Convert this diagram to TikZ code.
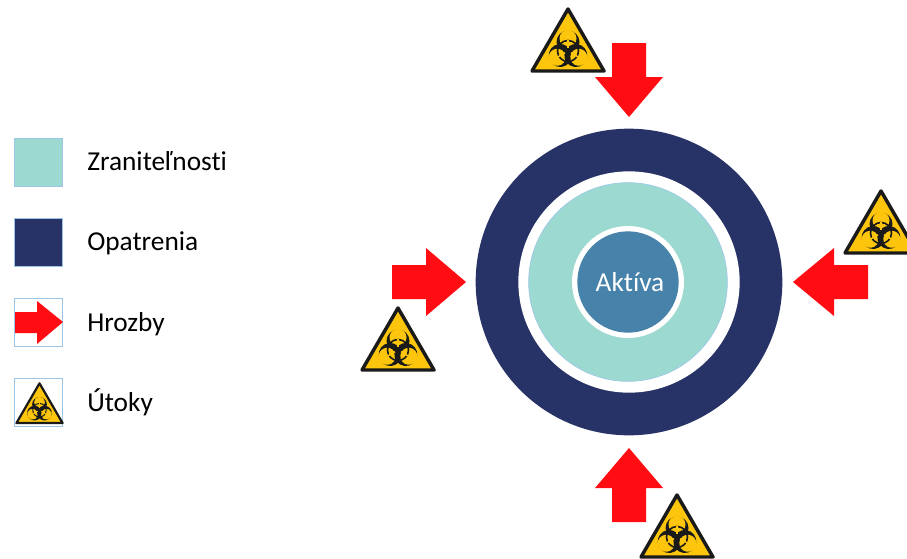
\documentclass[tikz,border=0pt]{standalone}
\usepackage{fontspec}
\setmainfont[Ligatures=NoCommon]{Carlito}
\definecolor{tealc}{HTML}{9CDAD1}
\definecolor{navyc}{HTML}{273366}
\definecolor{bluec}{HTML}{4682A9}
\definecolor{redc}{HTML}{FF0D12}
\definecolor{yelc}{HTML}{FDC60C}
\definecolor{framec}{HTML}{9CC6E8}
\definecolor{blk}{HTML}{1A1A1A}
\tikzset{
  x=0.75pt,y=-0.75pt,
  legendtext/.style={anchor=base west,inner sep=0pt,font=\fontsize{20.5pt}{22pt}\selectfont,text=black},
  swatch/.style={draw=framec,line width=1pt},
  threat/.style={fill=redc,draw=none},
  pics/biohaz/.style={code={
    \begin{scope}[scale=#1]
      \fill[yelc,draw=blk,line width=2.6*#1 pt,line join=round] (0,-62) -- (36,0) -- (-36,0) -- cycle;
      \foreach \a in {90,210,330}{
        \begin{scope}[rotate around={\a:(0,-20)}]
          \fill[blk] (9,-20) circle [radius=11.5];
          \fill[yelc] (12.5,-20) circle [radius=8.5];
        \end{scope}
      }
      \draw[blk,line width=1.2*#1 pt] (0,-20) circle [radius=10.5];
      \fill[blk] (0,-20) circle [radius=3.2];
      \foreach \a in {30,150,270}{
        \draw[yelc,line width=1.1*#1 pt] (0,-20) ++(\a:3.5) -- ++(\a:8);
      }
    \end{scope}
  }},
}
\begin{document}
\begin{tikzpicture}
\useasboundingbox (0,0) rectangle (907,558);
% rings
\node[circle,fill=navyc,minimum size=230pt,inner sep=0pt] (outer) at (629,282) {};
\node[circle,fill=white,minimum size=166pt,inner sep=0pt] (gap) at (outer.center) {};
\node[circle,fill=tealc,draw=framec,line width=.5pt,minimum size=149pt,inner sep=0pt] (vuln) at (628,282) {};
\node[circle,fill=white,minimum size=84pt,inner sep=0pt] (gap2) at (vuln.center) {};
\node[circle,fill=bluec,minimum size=76pt,inner sep=0pt] (asset) at (628,282) {};
\node[anchor=base,inner sep=0pt,text=white,font=\fontsize{20.5pt}{22pt}\selectfont] (assetlabel) at (630,291) {Aktíva};
% threats
\fill[threat] (612,43) -- (646,43) -- (646,77) -- (663,77) -- (629,117) -- (595,77) -- (612,77) -- cycle;
\fill[threat] (612,522) -- (646,522) -- (646,488) -- (663,488) -- (629,448) -- (595,488) -- (612,488) -- cycle;
\fill[threat] (392,265) -- (426,265) -- (426,248) -- (466,282) -- (426,316) -- (426,299) -- (392,299) -- cycle;
\fill[threat] (868,265) -- (834,265) -- (834,248) -- (793,282) -- (834,316) -- (834,299) -- (868,299) -- cycle;
% attacks
\pic at (568,71) {biohaz=1};
\pic at (881,253) {biohaz=1};
\pic at (398,370) {biohaz=1};
\pic at (677,557) {biohaz=1};
% legend
\node[swatch,fill=tealc,minimum size=36pt,inner sep=0pt] (k1) at (38.5,162.5) {};
\node[swatch,fill=navyc,minimum size=36pt,inner sep=0pt] (k2) at (38.5,242.5) {};
\node[swatch,fill=white,minimum size=36pt,inner sep=0pt] (k3) at (38.5,322.5) {};
\node[swatch,fill=white,minimum size=36pt,inner sep=0pt] (k4) at (38.5,402.5) {};
\fill[threat] (15,312) -- (37,312) -- (37,301) -- (63,322) -- (37,344) -- (37,333) -- (15,333) -- cycle;
\pic at (39.5,423) {biohaz=0.64};
\node[legendtext] (t1) at (87,170) {Zraniteľnosti};
\node[legendtext] (t2) at (87,250) {Opatrenia};
\node[legendtext] (t3) at (87,331) {Hrozby};
\node[legendtext] (t4) at (87,411) {Útoky};
\end{tikzpicture}
\end{document}
